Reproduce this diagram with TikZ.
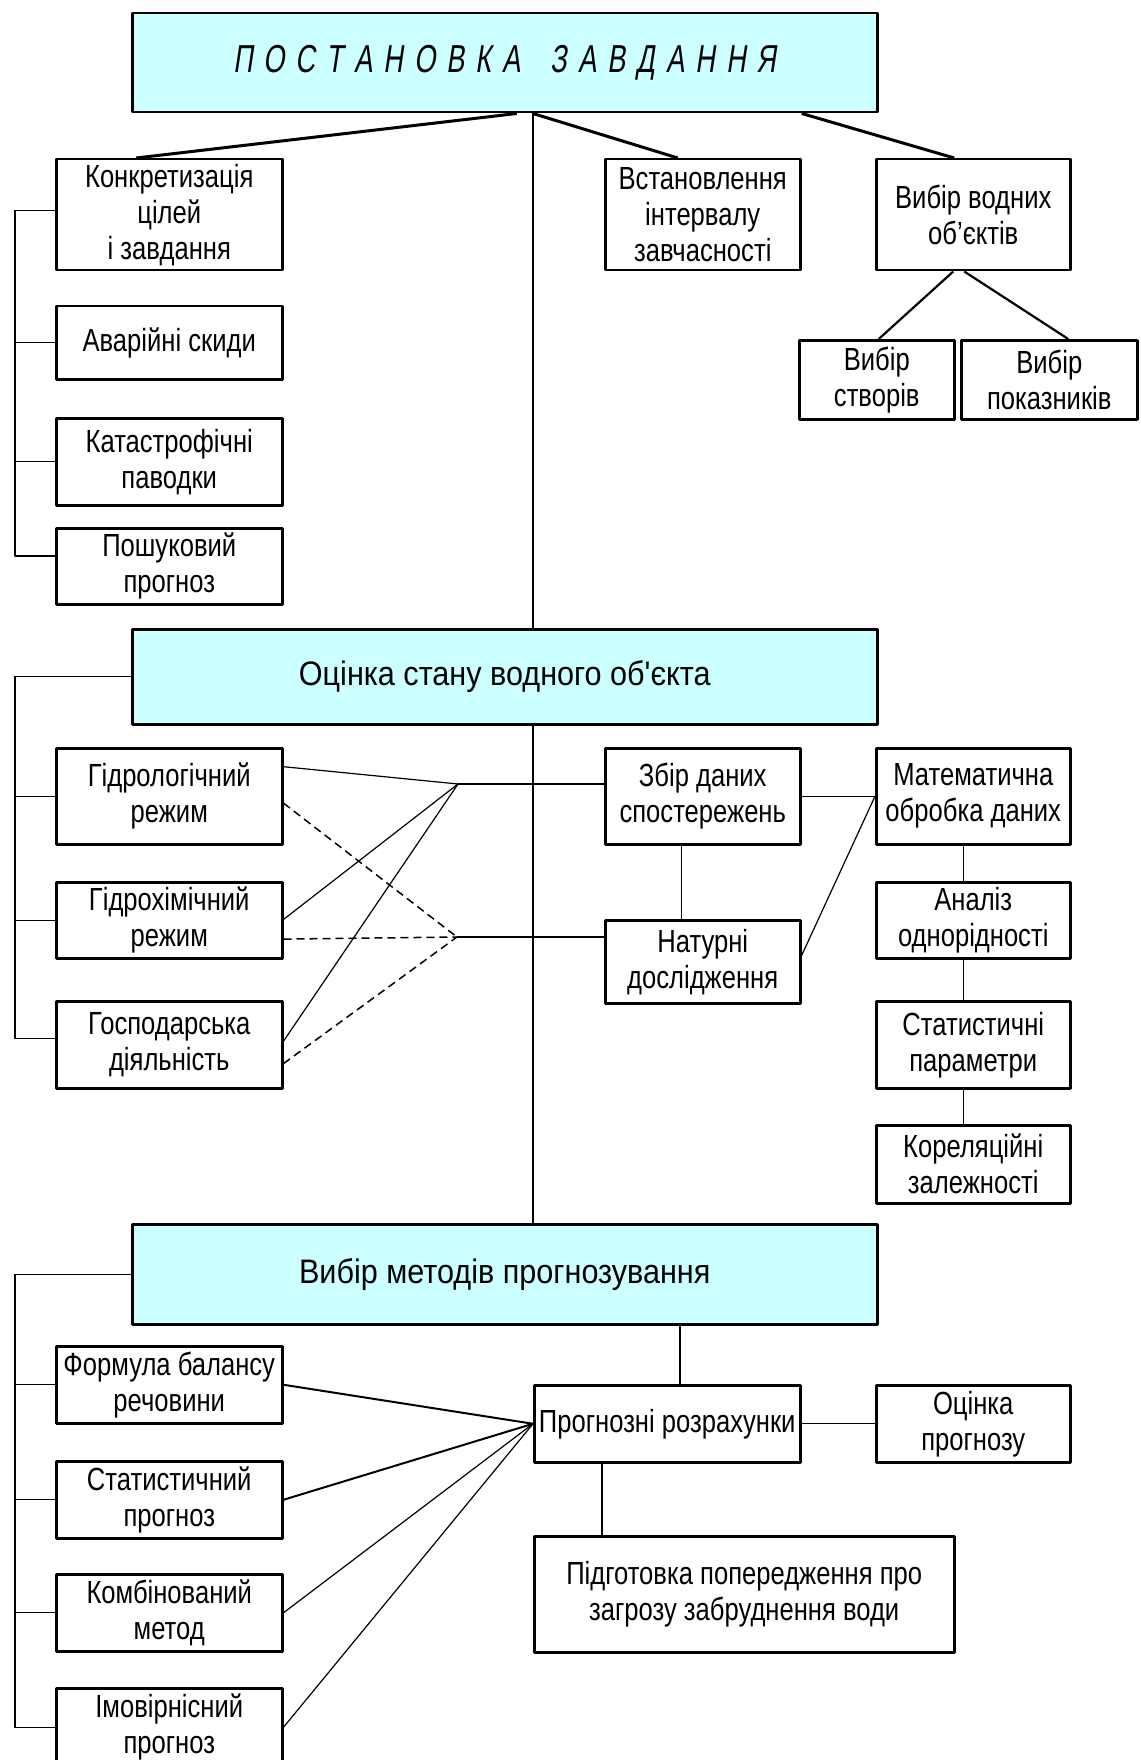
\documentclass[tikz,border=0pt]{standalone}
\usepackage{fontspec}
\setmainfont{Liberation Sans}[FakeStretch=0.8]
\newfontfamily\headfont{Liberation Sans}[FakeStretch=0.9]
\newfontfamily\titlefont{Liberation Sans}[FakeSlant=0.15,FakeStretch=0.7]
\usetikzlibrary{calc}
\definecolor{headfill}{HTML}{CCFFFF}
\def\gap{\hspace{11pt}}
\tikzset{
  box/.style={draw,line width=2.5pt,anchor=north west,align=center,inner sep=0pt,font=\fontsize{32}{36}\selectfont},
  lbox/.style={box,minimum width=226pt},
  mbox/.style={box,minimum width=195pt},
  rbox/.style={box,minimum width=194pt},
  head/.style={box,fill=headfill,minimum width=745pt,font=\headfont\fontsize{34}{40}\selectfont},
  thin/.style={line width=1.2pt},
  link/.style={line width=3pt},
  dashlink/.style={line width=1.5pt,dash pattern=on 8pt off 5pt}
}
\begin{document}
\begin{tikzpicture}[x=1pt,y=-1pt,line join=round]
\useasboundingbox (0,0) rectangle (1140,1760);
\node[head,minimum height=99pt] (post) at (131,12) {\titlefont\fontsize{39}{40}\selectfont П\gap О\gap С\gap Т\gap А\gap Н\gap О\gap В\gap К\gap А\hspace{30pt}З\gap А\gap В\gap Д\gap А\gap Н\gap Н\gap Я};
\node[lbox,minimum height=111pt] (konk) at (55,158) {Конкретизація\\цілей\\і завдання};
\node[mbox,minimum height=111pt] (vstan) at (604,158) {Встановлення\\інтервалу\\завчасності};
\node[rbox,minimum height=111pt] (vodn) at (875,158) {Вибір водних\\об'єктів};
\node[box,minimum width=155pt,minimum height=79pt] (stvor) at (798,339) {Вибір\\створів};
\node[box,minimum width=176pt,minimum height=79pt] (pokaz) at (960,339) {Вибір\\показників};
\node[lbox,minimum height=73pt] (avar) at (55,305) {Аварійні скиди};
\node[lbox,minimum height=87pt] (katas) at (55,417) {Катастрофічні\\паводки};
\node[lbox,minimum height=76pt] (poshuk) at (55,527) {Пошуковий\\прогноз};
\node[head,minimum height=95pt] (ocin) at (131,628) {Оцінка стану водного об'єкта};
\node[lbox,minimum height=96pt] (gidrol) at (55,747) {Гідрологічний\\режим};
\node[lbox,minimum height=76pt] (gidroh) at (55,881) {Гідрохімічний\\режим};
\node[lbox,minimum height=87pt] (gosp) at (55,1000) {Господарська\\діяльність};
\node[mbox,minimum height=96pt] (zbir) at (604,747) {Збір даних\\спостережень};
\node[mbox,minimum height=83pt] (natur) at (604,919) {Натурні\\дослідження};
\node[rbox,minimum height=96pt] (mat) at (875,747) {Математична\\обробка даних};
\node[rbox,minimum height=76pt] (analiz) at (875,881) {Аналіз\\однорідності};
\node[rbox,minimum height=87pt] (stat) at (875,1000) {Статистичні\\параметри};
\node[rbox,minimum height=78pt] (korel) at (875,1124) {Кореляційні\\залежності};
\node[head,minimum height=100pt] (vybir) at (131,1223) {Вибір методів прогнозування};
\node[lbox,minimum height=77pt] (formula) at (55,1345) {Формула балансу\\речовини};
\node[lbox,minimum height=77pt] (statpr) at (55,1460) {Статистичний\\прогноз};
\node[lbox,minimum height=77pt] (kombin) at (55,1573) {Комбінований\\метод};
\node[lbox,minimum height=78pt] (imov) at (55,1687) {Імовірнісний\\прогноз};
\node[box,minimum width=266pt,minimum height=77pt] (progn) at (533,1384) {Прогнозні розрахунки};
\node[rbox,minimum height=77pt] (ocpr) at (875,1384) {Оцінка\\прогнозу};
\node[box,minimum width=420pt,minimum height=116pt] (pidg) at (533,1535) {Підготовка попередження про\\загрозу забруднення води};
\coordinate (spine) at (533,0);
\coordinate (bus) at (15,0);
\coordinate (split) at (680,0);
\coordinate (drop) at (602,0);
\coordinate (fan1) at (458,784);
\coordinate (fan2) at (457,937);
\draw[thin] (post.south -| spine) -- (ocin.north -| spine) (ocin.south -| spine) -- (vybir.north -| spine);
\draw[link] ([xshift=12pt]post.south) -- ([xshift=-33pt]konk.north);
\draw[link] (post.south -| spine) -- ([xshift=-25pt]vstan.north);
\draw[link] ([xshift=297pt]post.south) -- ([xshift=-19pt]vodn.north);
\draw[line width=2.2pt] ([xshift=-20pt]vodn.south) -- ([xshift=2pt]stvor.north);
\draw[line width=2.2pt] ([xshift=-9pt]vodn.south) -- ([xshift=19pt]pokaz.north);
\path ($(konk.north west)!.46!(konk.south west)$) coordinate (k1) ($(poshuk.north west)!.37!(poshuk.south west)$) coordinate (k4) ($(gosp.north west)!.43!(gosp.south west)$) coordinate (g3);
\draw[thin] (k1) -- (k1 -| bus) -- (k4 -| bus) -- (k4) (avar.west -| bus) -- (avar.west) (katas.west -| bus) -- (katas.west);
\draw[thin] (ocin.west) -- (ocin.west -| bus) -- (g3 -| bus) -- (g3) (gidrol.west -| bus) -- (gidrol.west) (gidroh.west -| bus) -- (gidroh.west);
\draw[thin] (vybir.west) -- (vybir.west -| bus) -- (imov.west -| bus) -- (imov.west);
\foreach \n in {formula,statpr,kombin} \draw[thin] (\n.west -| bus) -- (\n.west);
\foreach \n/\a/\b in {gidrol/.2/.57,gidroh/.49/.74,gosp/.46/.71}{
  \draw[thin] ($(\n.north east)!\a!(\n.south east)$) -- (fan1);
  \draw[dashlink] ($(\n.north east)!\b!(\n.south east)$) -- (fan2);
}
\draw[thin] (fan1) -- (fan1 -| zbir.west);
\draw[thin] (fan2) -- (fan2 -| natur.west);
\draw[thin] ([xshift=-21pt]zbir.south) -- ([xshift=-21pt]natur.north);
\draw[thin] (zbir.east) -- (mat.west);
\draw[thin] ($(natur.north east)!.43!(natur.south east)$) -- (mat.west);
\draw[thin] ([xshift=-10pt]mat.south) -- ([xshift=-10pt]analiz.north) ([xshift=-10pt]analiz.south) -- ([xshift=-10pt]stat.north) ([xshift=-10pt]stat.south) -- ([xshift=-10pt]korel.north);
\draw[thin] (vybir.south -| split) -- (progn.north -| split);
\foreach \n/\w in {formula/2,statpr/2,kombin/1.2,imov/1.2} \draw[line width=\w pt] (\n.east) -- (progn.west);
\draw[thin] (progn.east) -- (ocpr.west);
\draw[thin] (progn.south -| drop) -- (pidg.north -| drop);
\end{tikzpicture}
\end{document}
